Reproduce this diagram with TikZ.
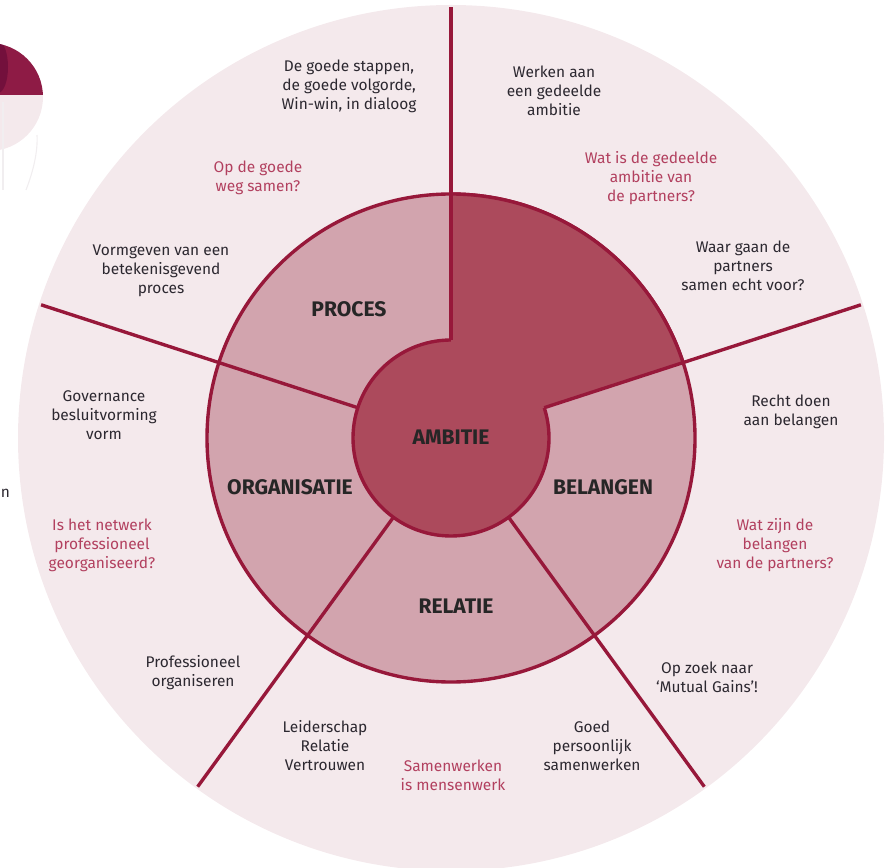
\documentclass[tikz,border=0pt]{standalone}
\usepackage{fontspec}
\usetikzlibrary{calc}
\setmainfont{Fira Sans}
\definecolor{wheelpale}{HTML}{F4E9EC}
\definecolor{wheelmid}{HTML}{D2A4AE}
\definecolor{wheeldark}{HTML}{AC4A5C}
\definecolor{wheelline}{HTML}{97183A}
\definecolor{asktext}{HTML}{B2405F}
\definecolor{plaintext}{HTML}{2C2830}
\definecolor{decodark}{HTML}{8E1B45}
\definecolor{decodeep}{HTML}{73103C}
\definecolor{decofaint}{HTML}{F1EEF0}
\tikzset{
  note/.style={align=center,text=plaintext,font=\fontsize{11}{13.5}\selectfont,inner sep=0pt},
  ask/.style={note,text=asktext},
  head/.style={text=black!85,font=\fontsize{15}{17}\selectfont\bfseries,inner sep=0pt},
  disc/.style={circle,draw=wheelline,line width=2.4pt,outer sep=0pt,inner sep=0pt}
}
\begin{document}
\begin{tikzpicture}[x=2.5cm,y=2.5cm]
    \clip (0,0) rectangle (8.86,8.67);
    \coordinate (centre) at (4.51,4.29);
    \begin{scope}
      \clip (-0.11,7.70) circle (0.54);
      \fill[wheelpale] (-0.7,7.1) rectangle (0.5,7.72);
      \fill[decodark] (-0.7,7.72) rectangle (0.5,8.3);
      \fill[decodeep] (-0.02,8.0) ellipse (0.10 and 0.26);
    \end{scope}
    \draw[decofaint,thick] (0.03,7.65) -- (0.03,6.77);
    \draw[decofaint,thick] (0.37,7.32) .. controls (0.38,7.15) and (0.33,6.95) .. (0.26,6.77);
    \node (cut) at (0.005,3.74) [note,anchor=west]{n};
    \fill[wheelpale] (centre) circle (4.33);
    \node (mid) at (centre) [disc,fill=wheelmid,minimum size=12.2cm] {};
    \fill[wheeldark] (centre) -- (mid.18) arc[start angle=18,end angle=90,radius=2.44] -- cycle;
    \draw[wheelline,line width=2.4pt] (mid.18) arc[start angle=18,end angle=90,radius=2.44];
    \node (ambitie) at (centre) [disc,fill=wheeldark,minimum size=4.9cm] {};
    \fill[wheeldark] (centre) -- ($(centre)+(18:1.1)$) arc[start angle=18,end angle=90,radius=1.1] -- cycle;
    \foreach \i in {90,18,-54,-126,162}{
      \coordinate (end\i) at ($(centre)+(\i:4.31)$);
      \draw[wheelline,line width=2.4pt] (ambitie.\i) -- (end\i);
    }
    \node (ambitietext) at (4.51,4.30) [head]{AMBITIE};
    \node (proces) at (3.49,5.58) [head]{PROCES};
    \node (organisatie) at (2.90,3.80) [head]{ORGANISATIE};
    \node (belangen) at (6.03,3.80) [head]{BELANGEN};
    \node (relatie) at (4.56,2.61) [head]{RELATIE};
    \node (stappen) at (3.49,7.81) [note]{De goede stappen,\\de goede volgorde,\\Win-win, in dialoog};
    \node (weg) at (2.58,6.89) [ask]{Op de goede\\weg samen?};
    \node (vormgeven) at (1.61,5.96) [note]{Vormgeven van een\\betekenisgevend\\proces};
    \node (werken) at (5.54,7.76) [note]{Werken aan\\een gedeelde\\ambitie};
    \node (gedeeld) at (6.51,6.89) [ask]{Wat is de gedeelde\\ambitie van\\de partners?};
    \node (waar) at (7.43,6.01) [note]{Waar gaan de\\partners\\samen echt voor?};
    \node (recht) at (7.91,4.55) [note]{Recht doen\\aan belangen};
    \node (belang) at (7.75,3.22) [ask]{Wat zijn de\\belangen\\van de partners?};
    \node (zoek) at (7.07,1.90) [note]{Op zoek naar\\‘Mutual Gains’!};
    \node (goed) at (5.92,1.21) [note]{Goed\\persoonlijk\\samenwerken};
    \node (mensen) at (4.53,0.92) [ask]{Samenwerken\\is mensenwerk};
    \node (leider) at (3.25,1.21) [note]{Leiderschap\\Relatie\\Vertrouwen};
    \node (prof) at (1.93,1.94) [note]{Professioneel\\organiseren};
    \node (netwerk) at (1.02,3.22) [ask]{Is het netwerk\\professioneel\\georganiseerd?};
    \node (governance) at (1.04,4.52) [note]{Governance\\besluitvorming\\vorm};
  \end{tikzpicture}
\end{document}
